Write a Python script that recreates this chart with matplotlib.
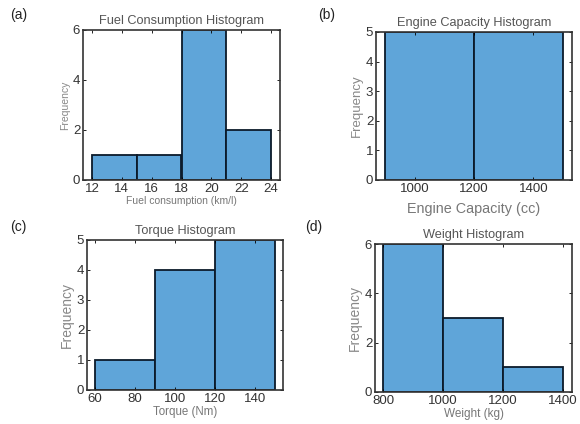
import numpy as np
import matplotlib
matplotlib.use("Agg")
import matplotlib.pyplot as plt

plt.rcParams['font.family'] = ['Liberation Sans', 'DejaVu Sans']

# histogram bin edges and counts
fuel_edges = [12, 15, 18, 21, 24]
fuel_counts = [1, 1, 6, 2]
engine_edges = [900, 1200, 1500]
engine_counts = [5, 5]
torque_edges = [60, 90, 120, 150]
torque_counts = [1, 4, 5]
weight_edges = [800, 1000, 1200, 1400]
weight_counts = [6, 3, 1]

bar_color = '#5fa5d9'
edge_color = '#0b1a2a'
text_gray = '#555555'

fig = plt.figure(figsize=(5.8, 4.24), dpi=100)


def hist_panel(rect, edges, counts, xlim, ylim, xticks, yticks, title, xlabel,
               label, label_xy, tsize=9.2, lsize=8, ysize=10, ticksize=9.5, xpad=1):
    ax = fig.add_axes(rect)
    ax.hist(edges[:-1], bins=edges, weights=counts, color=bar_color,
            edgecolor=edge_color, linewidth=1.3)
    ax.set_xlim(*xlim)
    ax.set_ylim(*ylim)
    ax.set_xticks(xticks)
    ax.set_yticks(yticks)
    ax.tick_params(direction='in', length=2.5, width=0.6, top=True, right=True,
                   labelsize=ticksize, labelcolor='#333333', pad=2)
    for s in ax.spines.values():
        s.set_linewidth(1.2)
        s.set_color('#333333')
    ax.set_title(title, fontsize=tsize, color=text_gray, pad=4)
    ax.set_xlabel(xlabel, fontsize=lsize, color='#777777', labelpad=xpad)
    ax.set_ylabel('Frequency', fontsize=ysize, color='#888888', labelpad=2)
    fig.text(label_xy[0] / 580, 1 - label_xy[1] / 424, label, fontsize=10,
             ha='left', va='center', color='#222222')
    return ax


hist_panel([83 / 580, 1 - 180 / 424, 197 / 580, 150 / 424], fuel_edges, fuel_counts,
           (11.4, 24.6), (0, 6), [12, 14, 16, 18, 20, 22, 24], [0, 2, 4, 6],
           'Fuel Consumption Histogram', 'Fuel consumption (km/l)', '(a)', (10, 15),
           lsize=7.5, ysize=7.5)
hist_panel([376 / 580, 1 - 180 / 424, 196 / 580, 148 / 424], engine_edges, engine_counts,
           (870, 1530), (0, 5), [1000, 1200, 1400], [0, 1, 2, 3, 4, 5],
           'Engine Capacity Histogram', 'Engine Capacity (cc)', '(b)', (318, 15),
           lsize=10.4, ysize=9.5, xpad=5)
hist_panel([87 / 580, 1 - 390 / 424, 196 / 580, 150 / 424], torque_edges, torque_counts,
           (56, 154), (0, 5), [60, 80, 100, 120, 140], [0, 1, 2, 3, 4, 5],
           'Torque Histogram', 'Torque (Nm)', '(c)', (10, 227),
           lsize=8.3)
hist_panel([375 / 580, 1 - 392 / 424, 197 / 580, 148 / 424], weight_edges, weight_counts,
           (773, 1430), (0, 6), [800, 1000, 1200, 1400], [0, 2, 4, 6],
           'Weight Histogram', 'Weight (kg)', '(d)', (305, 227),
           lsize=8.5)

fig.savefig('out.png', dpi=100)
